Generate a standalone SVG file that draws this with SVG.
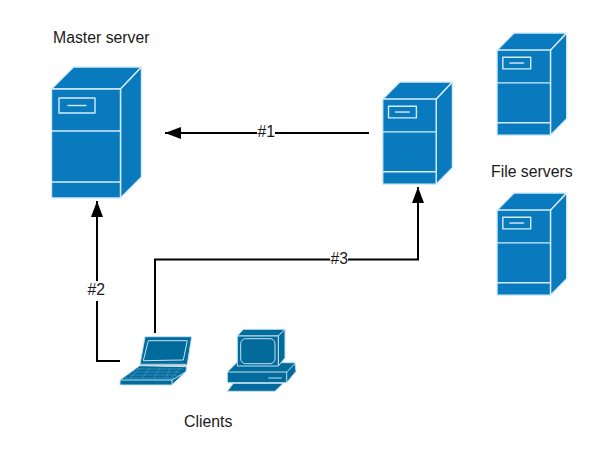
<svg xmlns="http://www.w3.org/2000/svg" width="602" height="449" viewBox="0 0 602 449">
<style>
text{font-family:"Liberation Sans",Arial,sans-serif;font-size:15.8px;fill:#1a1a1a}
.s path,.s rect{fill:#0a7abf;stroke:#d5ebf7;stroke-width:1.4;vector-effect:non-scaling-stroke;stroke-linejoin:round}
.c path,.c rect{fill:#036a9c;stroke:#c2e2f1;stroke-width:1;stroke-linejoin:round}
.c .l{fill:none}
.c .k{fill:none;stroke:#5fa9cb;stroke-width:.5}
.c .h{fill:none;stroke:#9aa5ab;stroke-width:1.2}
.w{fill:#fff}
.e{fill:none;stroke:#000;stroke-width:2}
</style>
<defs>
<marker id="a" markerUnits="userSpaceOnUse" markerWidth="17" markerHeight="12" refX="16" refY="6" orient="auto"><path d="M0 0L16 6L0 12Z" fill="#000"/></marker>
<g id="srv" class="s">
<path d="M0 22L22 0H90L69 22Z"/>
<path d="M69 22L90 0V110L69 131Z"/>
<rect x="0" y="22" width="69" height="109"/>
<path d="M0 64H69M0 115H69" fill="none"/>
<rect x="7.500" y="31" width="36" height="15"/>
<path d="M16 38.500H35"/>
</g>
</defs>
<g id="connectors">
<path class="e" d="M369 133H165" marker-end="url(#a)"/>
<path class="e" d="M120 361H97V201" marker-end="url(#a)"/>
<path class="e" d="M155 333V259.500H418V187" marker-end="url(#a)"/>
</g>
<g id="edge-labels">
<rect class="w" x="257" y="124" width="18" height="16"/><text x="257.500" y="136.700">#1</text>
<rect class="w" x="86" y="281" width="22" height="20"/><text x="87.500" y="294.500">#2</text>
<rect class="w" x="330" y="251" width="18" height="16"/><text x="330.500" y="263.500">#3</text>
</g>
<g id="master"><use href="#srv" transform="translate(51.500 67)"/><text x="53" y="42.500">Master server</text></g>
<g id="relay"><use href="#srv" transform="translate(382.700 82) scale(.775 .78)"/></g>
<g id="file1"><use href="#srv" transform="translate(497 33) scale(.775 .78)"/></g>
<g id="file2"><use href="#srv" transform="translate(497 193) scale(.775 .78)"/></g>
<text x="491" y="176.500">File servers</text>
<g id="laptop" class="c">
<path d="M145 336.700L191.700 336.700L187.300 364.300L140 364.300Z"/>
<path class="l" d="M148.300 340.700H187.300L183.300 360L143.300 360.700Z"/>
<path class="h" d="M140 365H187"/>
<path d="M140 365.700L186.700 366.700L186 371.700L171.700 385H120V380L138.300 366.700Z"/>
<path class="k" d="M137 369H183M133 372H180M129 375H177M125 378H174M140 368L130 378M150 368L142 378M160 368L154 378M170 368L166 378M180 368L172 378"/>
<path class="l" d="M120 380H172L186 371.700M172 380V385"/>
</g>
<g id="desktop" class="c">
<path d="M227.300 372L236.700 362.700H295L296 371.300L286.700 382.700H227.300Z"/>
<path class="l" d="M227.300 372H286.700L296 362.700M286.700 372V382.700M268.300 378H281.700"/>
<path d="M237.300 336L243.300 329.300H285L278.300 336Z"/>
<path d="M278.300 336L285 329.300V358L278.300 366Z"/>
<rect x="237.300" y="336" width="41" height="30"/>
<rect class="l" x="240.700" y="338.700" width="34.300" height="25" rx="5"/>
<path d="M233.300 383.300H283.300L275 391.300H227.300Z"/>
</g>
<text x="184" y="427">Clients</text>
</svg>
